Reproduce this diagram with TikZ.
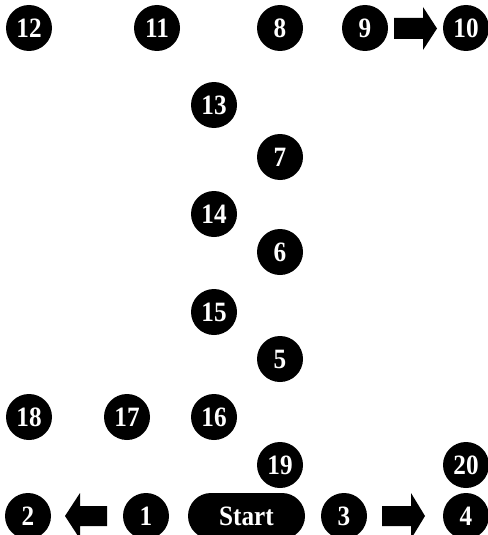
\documentclass[tikz,border=0pt]{standalone}
\usepackage{fontspec}
\setmainfont{Liberation Serif}
\newfontfamily\numfont[FakeStretch=0.9]{Liberation Serif}
\begin{document}
\begin{tikzpicture}[x=1pt,y=-1pt,
  num/.style={circle,fill=black,text=white,minimum size=46pt,inner sep=0pt,font=\numfont\fontsize{28}{28}\selectfont\bfseries},
  pill/.style={rectangle,rounded corners=23pt,fill=black,text=white,minimum width=117pt,minimum height=46pt,inner sep=0pt,font=\numfont\fontsize{28}{28}\selectfont\bfseries},
  blockarrow/.style={fill=black}]
\useasboundingbox (0,0) rectangle (487,535);
\node[num] (n12) at (29,28) {12};
\node[num] (n11) at (157,28) {11};
\node[num] (n8) at (280,28) {8};
\node[num] (n9) at (365,28) {9};
\node[num] (n10) at (466,28) {10};
\node[num] (n13) at (214,105) {13};
\node[num] (n7) at (280,157) {7};
\node[num] (n14) at (214,214) {14};
\node[num] (n6) at (280,252) {6};
\node[num] (n15) at (214,312) {15};
\node[num] (n5) at (280,359) {5};
\node[num] (n18) at (29,417) {18};
\node[num] (n17) at (127,417) {17};
\node[num] (n16) at (214,417) {16};
\node[num] (n19) at (280,465) {19};
\node[num] (n20) at (466,465) {20};
\node[num] (n2) at (28,516) {2};
\node[num] (n1) at (146,516) {1};
\node[pill] (start) at (246.5,516) {Start};
\node[num] (n3) at (344,516) {3};
\node[num] (n4) at (466,516) {4};
% block arrows
\fill[blockarrow] (394,18) -- (423,18) -- (423,7) -- (437,28.5) -- (423,50) -- (423,39) -- (394,39) -- cycle;
\fill[blockarrow] (107,506) -- (80,506) -- (80,493) -- (65,516) -- (80,539) -- (80,526) -- (107,526) -- cycle;
\fill[blockarrow] (382,506) -- (411,506) -- (411,493) -- (425,516) -- (411,539) -- (411,526) -- (382,526) -- cycle;
\end{tikzpicture}
\end{document}
